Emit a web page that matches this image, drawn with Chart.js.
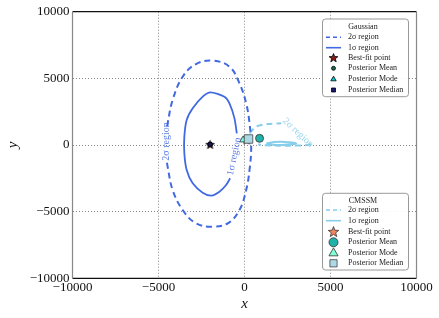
<!DOCTYPE html>
<html>
<head>
<meta charset="utf-8">
<script src="https://cdn.jsdelivr.net/npm/chart.js@4"></script>
<style>
  html, body { margin: 0; padding: 0; background: #fff; }
  #wrap { width: 439px; height: 318px; }
</style>
</head>
<body>
<div id="wrap"><canvas id="contour-chart"></canvas></div>
<script>
// axis ticks
const xTicks = [-10000, -5000, 0, 5000, 10000];
const yTicks = [-10000, -5000, 0, 5000, 10000];

// Gaussian contours
const gauss2sX = [-4500, -4470, -4178, -3595, -2818, -1848, -875, -292, 97, 292, 389, 292, 97, -292, -972, -1848, -2818, -3595, -4178, -4470, -4510];
const gauss2sY = [1400, 1625, 3375, 5125, 6075, 6325, 5875, 4625, 3125, 1625, -125, -1875, -3375, -4875, -5875, -6125, -5875, -4875, -3375, -1625, -1300];
const gauss1sX = [-447, -583, -875, -1166, -1982, -2430, -3012, -3362, -3498, -3498, -3362, -3012, -2430, -1924, -1458, -1069, -836];
const gauss1sY = [875, 2000, 3125, 3625, 3950, 3625, 2750, 1875, 625, -625, -1875, -2875, -3575, -3800, -3500, -3000, -2500];

// CMSSM contours
const cmssm2sTopX = [292, 680, 1360, 2140];
const cmssm2sTopY = [875, 1375, 1575, 1625];
const cmssm2sBotX = [3848, 3690, 2720, 2020, 972, 800];
const cmssm2sBotY = [75, 0, -50, -50, 0, 50];
const cmssm1sX = [1263, 1700, 2140, 2600, 3012, 2600, 2140, 1700, 1263];
const cmssm1sY = [100, 220, 250, 200, 120, 30, 0, 20, 100];

// point estimates [x, y]
const gaussBest = [-2000, 50];
const gaussMean = [-2000, 50];
const gaussMode = [-2000, 50];
const gaussMedian = [-2000, 50];
const cmssmBest = [120, 420];
const cmssmMean = [875, 500];
const cmssmMode = [-80, 380];
const cmssmMedian = [233, 450];

// legends
const legendTitles = ['Gaussian', 'CMSSM'];
const legendLabels = ['2\u03c3 region', '1\u03c3 region', 'Best-fit point', 'Posterior Mean', 'Posterior Mode', 'Posterior Median'];

const blue = '#4169e1';
const sky = '#87ceeb';
const serif = '"Liberation Serif", "DejaVu Serif", serif';

function zip(xs, ys) {
    return xs.map((x, i) => ({ x: x, y: ys[i] }));
}

function starPath(g, cx, cy, r) {
    g.beginPath();
    for (let i = 0; i < 10; i++) {
        const rr = i % 2 === 0 ? r : r * 0.42;
        const a = -Math.PI / 2 + i * Math.PI / 5;
        g.lineTo(cx + rr * Math.cos(a), cy + rr * Math.sin(a));
    }
    g.closePath();
}

function starImage(size, fill, stroke) {
    const c = document.createElement('canvas');
    c.width = c.height = size;
    const g = c.getContext('2d');
    starPath(g, size / 2, size / 2 + 0.5, size / 2 - 1);
    g.fillStyle = fill;
    g.fill();
    g.strokeStyle = stroke;
    g.lineWidth = 0.8;
    g.stroke();
    return c;
}

const gaussStar = starImage(11, '#8b1a1a', '#000');
const cmssmStar = starImage(12, '#f4845f', '#333');

function lineSet(xs, ys, color, dash, width, tension) {
    return {
        data: zip(xs, ys), showLine: true, borderColor: color, borderWidth: width,
        borderDash: dash, pointRadius: 0, tension: tension, fill: false, order: 10
    };
}

function pointSet(p, style, radius, fill, edge, order) {
    return {
        data: [{ x: p[0], y: p[1] }], pointStyle: style, pointRadius: radius,
        backgroundColor: fill, borderColor: edge, borderWidth: 0.8, order: order
    };
}

const datasets = [
    lineSet(gauss2sX, gauss2sY, blue, [6, 4], 2, 0.4),
    lineSet(gauss1sX, gauss1sY, blue, [], 1.8, 0.25),
    lineSet(cmssm2sTopX, cmssm2sTopY, sky, [6, 4], 2, 0.3),
    lineSet(cmssm2sBotX, cmssm2sBotY, sky, [6, 4], 2, 0.3),
    lineSet(cmssm1sX, cmssm1sY, sky, [], 2, 0.4),
    pointSet(gaussBest, gaussStar, 5, '#8b1a1a', '#000', 8),
    pointSet(gaussMean, 'circle', 2, '#1b6b4a', '#000', 7),
    pointSet(gaussMode, 'triangle', 2.5, '#00ced1', '#000', 6),
    pointSet(gaussMedian, 'rect', 2.6, '#191970', '#000', 5),
    pointSet(cmssmBest, cmssmStar, 6, '#f4845f', '#333', 4),
    pointSet(cmssmMode, 'triangle', 4, '#7fffd4', '#333', 3),
    pointSet(cmssmMedian, 'rect', 6, '#add8e6', '#444', 2),
    pointSet(cmssmMean, 'circle', 4, '#20b2aa', '#333', 1)
];

function drawMarker(g, kind, x, y, size, fill, edge) {
    g.save();
    g.fillStyle = fill;
    g.strokeStyle = edge;
    g.lineWidth = 0.8;
    g.beginPath();
    if (kind === 'star') {
        starPath(g, x, y + 0.4, size);
    } else if (kind === 'circle') {
        g.arc(x, y, size, 0, Math.PI * 2);
    } else if (kind === 'triangle') {
        g.moveTo(x, y - size);
        g.lineTo(x + size * 0.95, y + size * 0.65);
        g.lineTo(x - size * 0.95, y + size * 0.65);
        g.closePath();
    } else {
        g.rect(x - size, y - size, size * 2, size * 2);
    }
    g.fill();
    g.stroke();
    g.restore();
}

function drawLegend(g, top, bottom, title, color, marks, rows) {
    g.save();
    g.beginPath();
    g.roundRect(322.5, top, 86, bottom - top, 3);
    g.fillStyle = 'rgba(255,255,255,0.9)';
    g.fill();
    g.strokeStyle = '#999';
    g.lineWidth = 1;
    g.stroke();
    g.font = '8px ' + serif;
    g.fillStyle = '#222';
    g.textBaseline = 'middle';
    g.textAlign = 'center';
    g.fillText(title, 363, top + 7.5);
    g.textAlign = 'left';
    rows.forEach((ry, i) => {
        g.fillText(legendLabels[i], 348, ry);
        if (i < 2) {
            g.beginPath();
            g.setLineDash(i === 0 ? [4, 3] : []);
            g.strokeStyle = color;
            g.lineWidth = 1.6;
            g.moveTo(326, ry);
            g.lineTo(341, ry);
            g.stroke();
            g.setLineDash([]);
        } else {
            const m = marks[i - 2];
            drawMarker(g, m[0], 333.5, ry, m[1], m[2], m[3]);
        }
    });
    g.restore();
}

const decor = {
    id: 'decor',
    afterDraw(chart) {
        const g = chart.ctx;
        const a = chart.chartArea;
        const sx = chart.scales.x, sy = chart.scales.y;
        // frame
        g.save();
        g.lineWidth = 1.2;
        g.strokeStyle = '#111';
        g.beginPath();
        g.moveTo(a.left, a.top); g.lineTo(a.right, a.top);
        g.moveTo(a.left, a.bottom); g.lineTo(a.right, a.bottom);
        g.stroke();
        g.strokeStyle = '#888';
        g.beginPath();
        g.moveTo(a.left, a.top); g.lineTo(a.left, a.bottom);
        g.moveTo(a.right, a.top); g.lineTo(a.right, a.bottom);
        g.stroke();
        // contour labels
        g.font = '10px ' + serif;
        g.textAlign = 'center';
        g.textBaseline = 'middle';
        const labels = [
            [-4520, 260, -Math.PI / 2, blue, legendLabels[0]],
            [-600, -850, -1.36, blue, legendLabels[1]],
            [3110, 925, 0.75, sky, legendLabels[0]]
        ];
        labels.forEach(l => {
            g.save();
            g.translate(sx.getPixelForValue(l[0]), sy.getPixelForValue(l[1]));
            g.rotate(l[2]);
            g.globalAlpha = 0.85;
            g.fillStyle = l[3];
            g.fillText(l[4], 0, 0);
            g.restore();
        });
        g.restore();
        drawLegend(g, 19, 96.7, legendTitles[0], blue, [
            ['star', 4.6, '#8b1a1a', '#000'],
            ['circle', 2, '#1b6b4a', '#000'],
            ['triangle', 2.8, '#00ced1', '#000'],
            ['rect', 2, '#191970', '#000']
        ], [37.3, 47.7, 57.7, 68.3, 79, 90]);
        drawLegend(g, 193.3, 270, legendTitles[1], sky, [
            ['star', 5.5, '#f4845f', '#333'],
            ['circle', 4.5, '#20b2aa', '#333'],
            ['triangle', 4.8, '#7fffd4', '#333'],
            ['rect', 3.6, '#add8e6', '#444']
        ], [210, 220.7, 231.7, 242.3, 252.7, 263.3]);
    }
};

function tickLabel(v) {
    return v < 0 ? '\u2212' + Math.abs(v) : String(v);
}

function gridColor(ctx) {
    const v = ctx.tick ? ctx.tick.value : 0;
    return Math.abs(v) >= 10000 ? 'rgba(0,0,0,0)' : '#888';
}

new Chart(document.getElementById('contour-chart'), {
    type: 'scatter',
    data: { datasets: datasets },
    plugins: [decor],
    options: {
        responsive: true,
        maintainAspectRatio: false,
        animation: false,
        layout: { padding: { top: 11.7, right: 22.5, left: 0, bottom: 0 } },
        plugins: { legend: { display: false }, tooltip: { enabled: false } },
        scales: {
            x: {
                min: xTicks[0], max: xTicks[xTicks.length - 1],
                afterBuildTicks: s => { s.ticks = xTicks.map(v => ({ value: v })); },
                afterFit: s => { s.height = 39.7; },
                border: { display: false, dash: [1, 2] },
                grid: { color: gridColor, drawTicks: false, lineWidth: 1 },
                ticks: { callback: tickLabel, padding: 1, maxRotation: 0, color: '#111', font: { family: serif, size: 13 } },
                title: { display: true, text: 'x', color: '#111', padding: { top: 0, bottom: 5 }, font: { family: serif, size: 15, style: 'italic' } }
            },
            y: {
                min: yTicks[0], max: yTicks[yTicks.length - 1],
                afterBuildTicks: s => { s.ticks = yTicks.map(v => ({ value: v })); },
                afterFit: s => { s.width = 72.5; },
                border: { display: false, dash: [1, 2] },
                grid: { color: gridColor, drawTicks: false, lineWidth: 1 },
                ticks: { callback: tickLabel, padding: 3, color: '#111', font: { family: serif, size: 13 } },
                title: { display: true, text: 'y', color: '#111', padding: { top: 4, bottom: 4 }, font: { family: serif, size: 15, style: 'italic' } }
            }
        }
    }
});
</script>
</body>
</html>
